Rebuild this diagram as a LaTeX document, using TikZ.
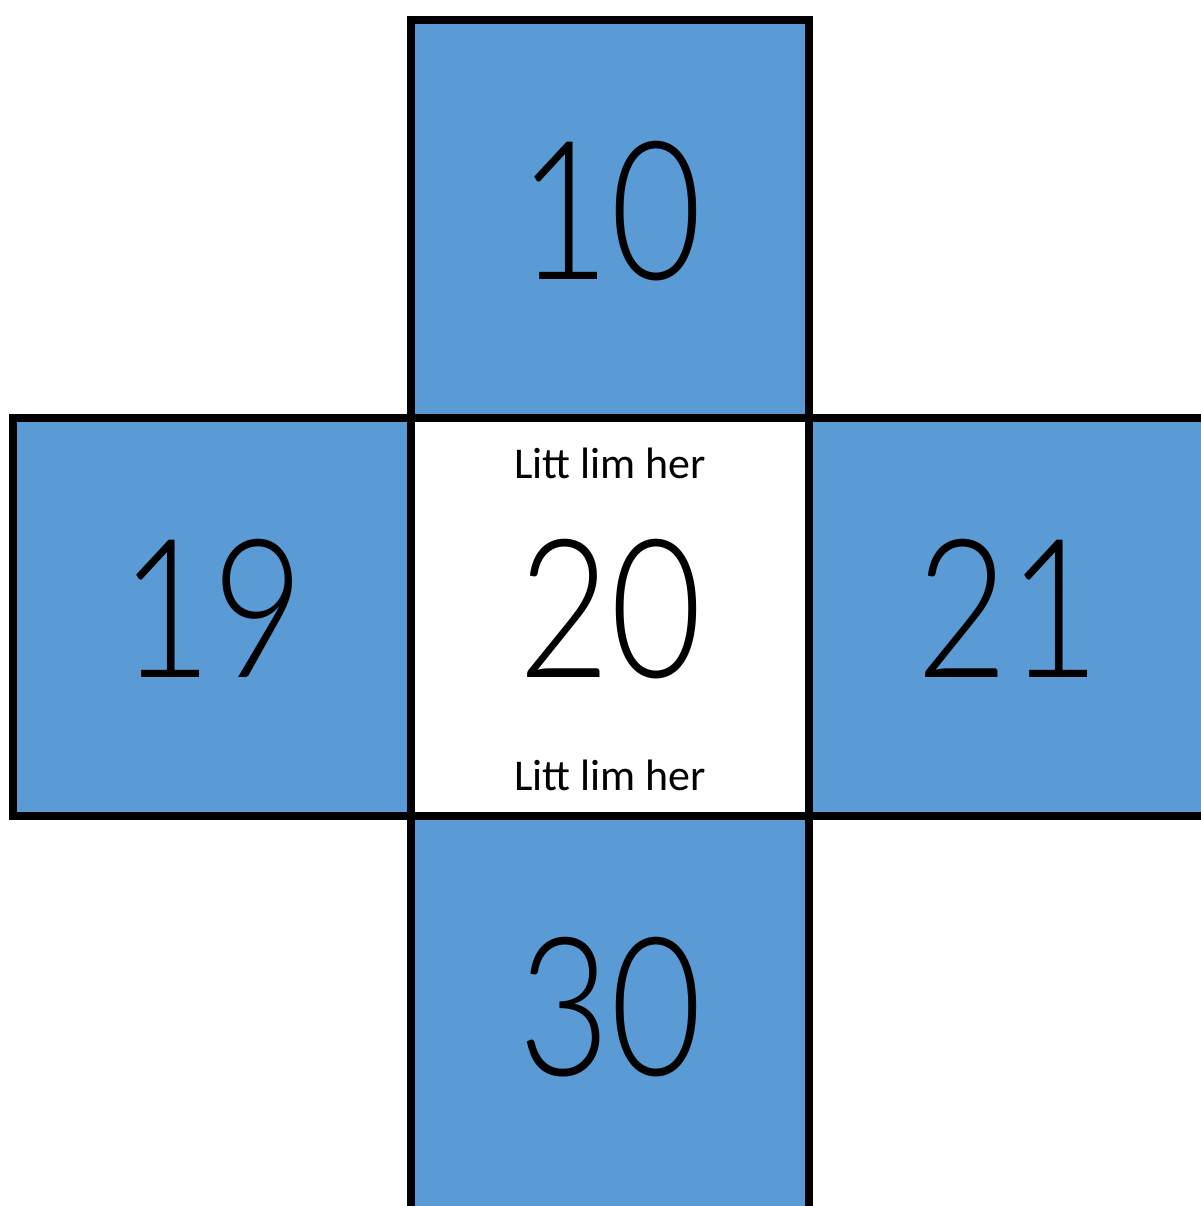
\documentclass[tikz,border=0pt]{standalone}
\usepackage{fontspec}
\usepackage{tikz}
\usetikzlibrary{positioning}
\setmainfont{Carlito}
\newfontfamily\numfont{Lato Light}[FakeStretch=0.82]
\definecolor{faceblue}{HTML}{5B9BD5}
\tikzset{
  face/.style={draw,line width=0.16cm,fill=faceblue,minimum size=7.96cm,inner sep=0pt,outer sep=0pt,text depth=0.36cm,font=\numfont\fontsize{110}{110}\selectfont},
  midface/.style={face,fill=white},
  gluenote/.style={font=\fontsize{25}{30}\selectfont,inner sep=0pt}
}

\begin{document}
\begin{tikzpicture}[node distance=0pt]
  \useasboundingbox (0,0) rectangle (24.02,24.12);
  \node[midface] (mid) at (12.2,11.77) {20};
  \node[face,above=of mid] (top) {10};
  \node[face,left=of mid] (left) {19};
  \node[face,right=of mid] (right) {21};
  \node[face,below=of mid] (bottom) {30};

  \node[gluenote,below=0.9cm of mid.north,anchor=center] (gluetop) {Litt lim her};
  \node[gluenote,above=0.82cm of mid.south,anchor=center] (gluebot) {Litt lim her};
\end{tikzpicture}
\end{document}
